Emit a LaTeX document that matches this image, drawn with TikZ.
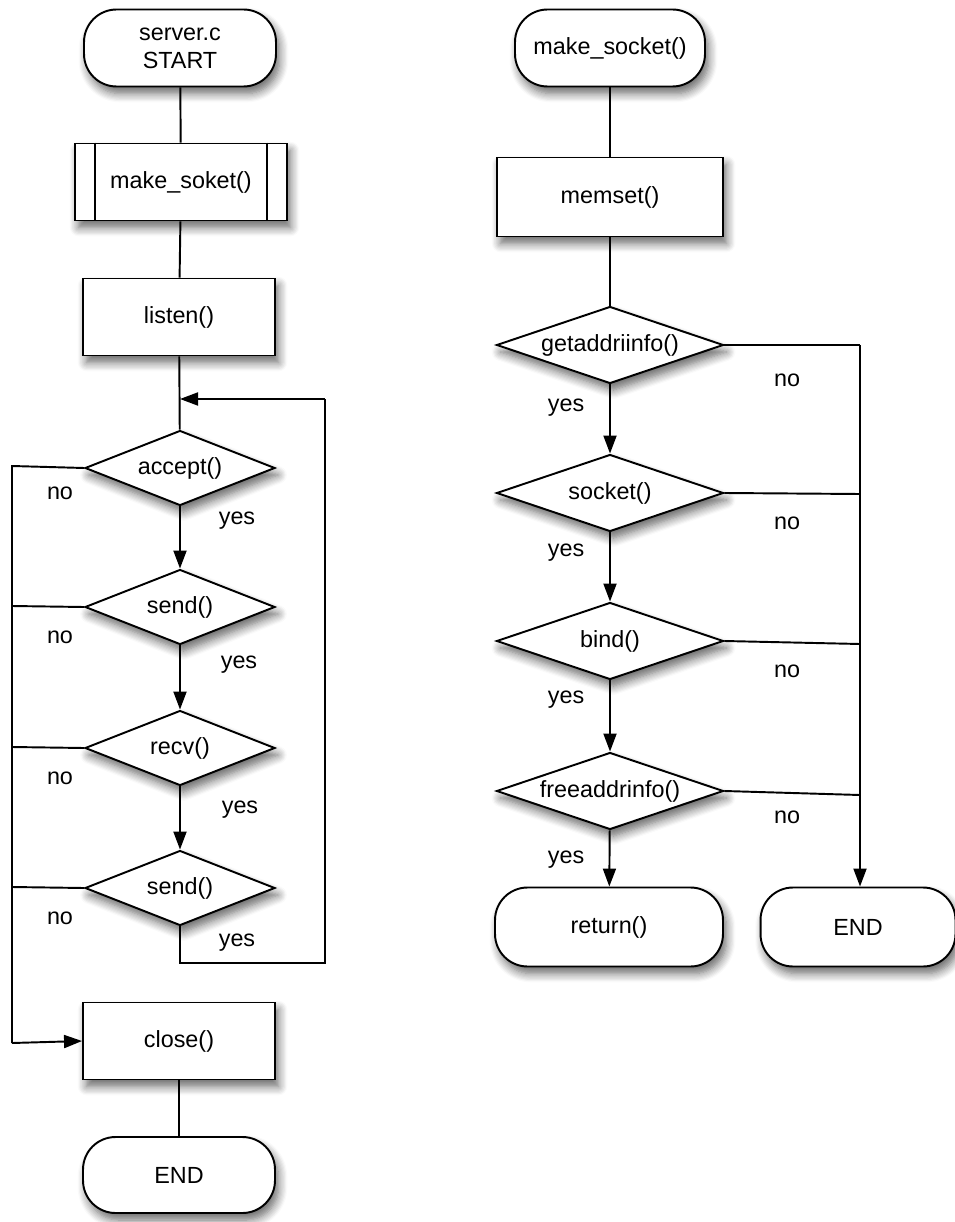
\documentclass[tikz,border=0pt]{standalone}
\usepackage{fontspec}
\setmainfont{Liberation Sans}
\usetikzlibrary{shapes.geometric,arrows.meta,shadows.blur}
\begin{document}
\begin{tikzpicture}[x=0.02cm,y=-0.02cm,
  every node/.style={font=\fontsize{13.3}{16}\selectfont},
  base/.style={draw,line width=1.1pt,fill=white,inner sep=0pt,
    blur shadow={shadow blur steps=8,shadow xshift=2pt,shadow yshift=-4pt,shadow opacity=60,shadow blur radius=5pt}},
  term/.style={base,rectangle,rounded corners=0.65cm,minimum width=3.84cm,minimum height=1.54cm,align=center},
  proc/.style={base,rectangle,minimum width=3.84cm,minimum height=1.54cm},
  dec/.style={base,diamond,shape aspect=3,minimum width=3.8cm,minimum height=1.5cm},
  decw/.style={dec,minimum width=4.54cm,minimum height=1.54cm},
  line/.style={line width=1.1pt},
  arr/.style={line width=1.1pt,-{Triangle[length=0.36cm,width=0.26cm]}},
  lab/.style={font=\fontsize{13.3}{16}\selectfont,inner sep=0pt}]
\useasboundingbox (0,0) rectangle (955,1222);
% ---- left column
\node[term] (start) at (180,48) {server.c\\START};
\node[proc,minimum width=4.24cm] (mks) at (181,182) {make\_soket()};
\draw[line width=1.1pt] ([xshift=0.42cm]mks.north west) -- ([xshift=0.42cm]mks.south west)
  ([xshift=-0.42cm]mks.north east) -- ([xshift=-0.42cm]mks.south east);
\node[proc] (listen) at (179,317) {listen()};
\node[dec] (accept) at (180,468) {accept()};
\node[dec] (send1) at (180,607) {send()};
\node[dec] (recv) at (180,748) {recv()};
\node[dec] (send2) at (180,888) {send()};
\node[proc] (close) at (179,1041) {close()};
\node[term,minimum height=1.52cm] (end1) at (179,1175) {END};

\coordinate (join) at (180,399);
\coordinate (lb) at (180,963);
\coordinate (rb) at (325,963);
\coordinate (rt) at (325,399);
\coordinate (vtop) at (12,466);
\coordinate (v2) at (12,606);
\coordinate (v3) at (12,747);
\coordinate (v4) at (12,887);
\coordinate (vbot) at (12,1043);

\draw[line] (start) -- (mks);
\draw[line] (mks) -- (listen);
\draw[line] (listen) -- (accept);
\draw[arr] (accept) -- (send1);
\draw[arr] (send1) -- (recv);
\draw[arr] (recv) -- (send2);
\draw[line] (send2.south) -- (lb) -- (rb) -- (rt);
\draw[arr] (rt) -- (join);
\draw[line] (accept.west) -- (vtop) -- (vbot);
\draw[line] (send1.west) -- (v2);
\draw[line] (recv.west) -- (v3);
\draw[line] (send2.west) -- (v4);
\draw[arr] (vbot) -- (close.west);
\draw[line] (close) -- (end1);

\node[lab] (n1) at (60,493) {no};
\node[lab] (n2) at (60,637) {no};
\node[lab] (n3) at (60,778) {no};
\node[lab] (n4) at (60,918) {no};
\node[lab] (y1) at (237,521) {yes};
\node[lab] (y2) at (239,665) {yes};
\node[lab] (y3) at (240,810) {yes};
\node[lab] (y4) at (237,943) {yes};

% ---- right column
\node[term,minimum width=3.8cm] (mks2) at (610,48) {make\_socket()};
\node[proc,minimum width=4.52cm,minimum height=1.58cm] (memset) at (610,197) {memset()};
\node[decw] (gai) at (610,345) {getaddriinfo()};
\node[decw] (sock) at (610,493) {socket()};
\node[decw] (bind) at (610,641) {bind()};
\node[decw] (fai) at (610,791) {freeaddrinfo()};
\node[term,minimum width=4.56cm,minimum height=1.58cm] (ret) at (609,927) {return()};
\node[term,minimum width=3.9cm,minimum height=1.58cm] (end2) at (858,927) {END};

\coordinate (r1) at (860,345);
\coordinate (r2) at (860,494);
\coordinate (r3) at (860,644);
\coordinate (r4) at (860,795);

\draw[line] (mks2) -- (memset);
\draw[line] (memset) -- (gai);
\draw[arr] (gai) -- (sock);
\draw[arr] (sock) -- (bind);
\draw[arr] (bind) -- (fai);
\draw[arr] (fai) -- (ret);
\draw[line] (gai.east) -- (r1);
\draw[line] (sock.east) -- (r2);
\draw[line] (bind.east) -- (r3);
\draw[line] (fai.east) -- (r4);
\draw[arr] (r1) -- (end2.north -| r1);

\node[lab] (rn1) at (787,380) {no};
\node[lab] (rn2) at (787,523) {no};
\node[lab] (rn3) at (787,671) {no};
\node[lab] (rn4) at (787,817) {no};
\node[lab] (ry1) at (566,408) {yes};
\node[lab] (ry2) at (566,553) {yes};
\node[lab] (ry3) at (566,700) {yes};
\node[lab] (ry4) at (566,860) {yes};
\end{tikzpicture}
\end{document}
